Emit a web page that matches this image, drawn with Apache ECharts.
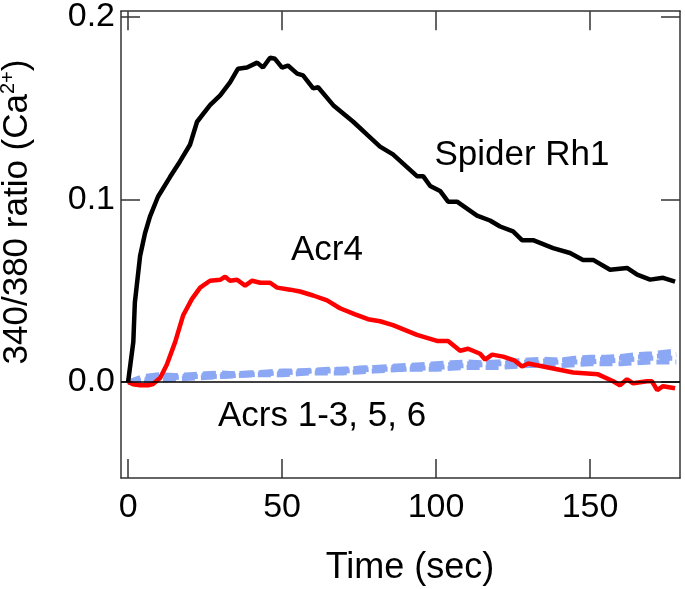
<!DOCTYPE html>
<html><head><meta charset="utf-8">
<script src="https://cdn.jsdelivr.net/npm/echarts@6/dist/echarts.min.js"></script>
<style>html,body{margin:0;padding:0;background:#fff}#c{width:685px;height:589px}</style>
</head><body><div id="c"></div>
<script>
// Spider Rh1 (black)
var rh1 = [[0,0],[1.7,0.022],[2.2,0.0436],[3.9,0.069],[5.5,0.0815],[7.1,0.0906],[9.7,0.1015],[13.6,0.1123],[16.9,0.121],[20.1,0.130],[22.4,0.1426],[26.6,0.1517],[29.9,0.1571],[33.1,0.1642],[35.7,0.1717],[38.6,0.1723],[41.9,0.175],[43.8,0.1723],[46.1,0.1777],[47.7,0.1771],[50.0,0.1723],[51.9,0.1734],[54.9,0.169],[56.8,0.168],[60.1,0.1609],[61.7,0.1615],[66.6,0.1517],[73.1,0.1426],[77.6,0.1355],[81.8,0.129],[86.0,0.1247],[93.8,0.1128],[95.8,0.1128],[98.1,0.1074],[101.3,0.1047],[103.9,0.0988],[106.8,0.0988],[113.3,0.0912],[117.5,0.0885],[120.8,0.0852],[125.0,0.0825],[127.9,0.0777],[131.5,0.0777],[138.0,0.0734],[143.5,0.0707],[147.7,0.0669],[151.0,0.0669],[156.5,0.0615],[162.0,0.0625],[165.3,0.0588],[169.5,0.0561],[173.7,0.0571],[177.6,0.055]];
// Acr4 (red)
var acr4 = [[0,0],[1.6,-0.0012],[3.9,-0.0018],[6.5,-0.0018],[8.1,-0.0011],[10.4,0.0022],[12.6,0.0096],[15.3,0.022],[17.9,0.0366],[20.7,0.0454],[23.4,0.0517],[26.6,0.0555],[29.9,0.056],[31.5,0.0577],[33.1,0.0555],[35.4,0.056],[38.0,0.0528],[40.3,0.0555],[42.9,0.0544],[46.1,0.0544],[48.4,0.0517],[52.6,0.0506],[55.8,0.0496],[60.1,0.0474],[64.6,0.0447],[68.8,0.0404],[73.7,0.0371],[77.9,0.0344],[81.8,0.0333],[86.0,0.0312],[93.8,0.0258],[100.3,0.0225],[103.9,0.0225],[107.8,0.0171],[110.4,0.0182],[114.3,0.0155],[115.9,0.0123],[118.2,0.015],[121.8,0.0139],[125.6,0.0117],[127.9,0.0085],[129.9,0.0101],[138.0,0.0074],[144.5,0.0052],[152.6,0.0042],[157.5,0.0004],[159.7,-0.0018],[162.0,0.0015],[164.0,-0.0007],[168.5,0.0004],[170.1,0.0004],[171.8,-0.0045],[173.7,-0.0023],[177.6,-0.0034]];
// Acrs 1-3, 5, 6 (blue dashed)
var tBlue = [0,5,10,15,20,25,30,35,40,45,50,55,60,65,70,75,80,85,90,95,100,105,110,115,120,125,130,135,140,145,150,155,160,165,170,175,178];
var acrA = [0,.003,.004,.0035,.004,.0045,.005,.0045,.005,.0055,.006,.006,.0065,.007,.007,.0075,.008,.0085,.009,.0095,.010,.0105,.011,.0105,.011,.0115,.012,.0125,.012,.013,.0135,.0135,.014,.015,.0155,.0165,.017];
var acrB = [0,.001,.003,.003,.003,.0035,.004,.0045,.005,.005,.005,.0055,.006,.0065,.007,.0075,.008,.008,.008,.0085,.009,.0095,.010,.010,.010,.0105,.011,.0115,.012,.012,.012,.0125,.013,.0135,.014,.0145,.015];
var acrC = [0,.001,.002,.0025,.003,.003,.003,.0035,.004,.0045,.005,.0055,.006,.006,.006,.0065,.007,.007,.007,.0075,.008,.0085,.009,.0095,.010,.010,.010,.0105,.011,.011,.011,.0115,.012,.0125,.013,.013,.013];
var acrD = [0,0,.001,.0015,.002,.0025,.003,.0035,.004,.004,.004,.0045,.005,.005,.005,.0055,.006,.0065,.007,.007,.007,.0075,.008,.008,.008,.0085,.009,.009,.009,.0095,.010,.010,.010,.0105,.011,.011,.011];
var acrE = [0,.002,.003,.003,.0035,.004,.004,.004,.0045,.005,.0055,.006,.006,.0065,.0065,.007,.0075,.008,.0085,.009,.009,.009,.0095,.010,.0105,.011,.011,.011,.0115,.012,.0125,.013,.0135,.014,.0145,.015,.016];
var xTicks = [0,50,100,150];
var yTicks = [0,0.1,0.2];

var FONT = 'Liberation Sans, Arial, sans-serif';
function pair(t, v){ return t.map(function(x,i){return [x,v[i]];}); }
var axLine = {show:true, onZero:false, lineStyle:{color:'#333', width:1.5}};
var tick = {show:true, inside:true, length:19, lineStyle:{color:'#333', width:1.5}};
function blue(v, off, first){
  var s = {type:'line', data:pair(tBlue,v), showSymbol:false, silent:true, z:2,
    lineStyle:{color:'#8ca8f4', width:5, type:[13,6], dashOffset:off}};
  if (first) s.markLine = {symbol:'none', silent:true, label:{show:false},
    lineStyle:{color:'#000', width:1.5, type:'solid'}, data:[{yAxis:0}]};
  return s;
}
var chart = echarts.init(document.getElementById('c'), null, {renderer:'canvas'});
chart.setOption({
  animation:false,
  grid:{left:121, right:5, top:5, bottom:111},
  xAxis:[
    {type:'value', min:-2.3, max:179.2, position:'bottom', splitLine:{show:false}, axisLine:axLine,
      axisTick:Object.assign({customValues:xTicks}, tick),
      axisLabel:{customValues:xTicks, fontSize:34, color:'#000', fontFamily:FONT, margin:13}},
    {type:'value', min:-2.3, max:179.2, position:'top', splitLine:{show:false}, axisLine:axLine,
      axisTick:Object.assign({customValues:xTicks}, tick), axisLabel:{show:false}}
  ],
  yAxis:[
    {type:'value', min:-0.0526, max:0.2032, position:'left', splitLine:{show:false}, axisLine:axLine,
      axisTick:Object.assign({customValues:yTicks}, tick),
      axisLabel:{customValues:yTicks, fontSize:34, color:'#000', fontFamily:FONT, margin:6,
        formatter:function(v){return v.toFixed(1);}}},
    {type:'value', min:-0.0526, max:0.2032, position:'right', splitLine:{show:false}, axisLine:axLine,
      axisTick:Object.assign({customValues:yTicks}, tick), axisLabel:{show:false}}
  ],
  series:[
    blue(acrA, 0, true), blue(acrB, 2), blue(acrC, 0), blue(acrD, 3), blue(acrE, 1),
    {type:'line', data:acr4, showSymbol:false, z:3, lineStyle:{color:'#ff0000', width:4.5}},
    {type:'line', data:rh1, showSymbol:false, z:4, lineStyle:{color:'#000', width:4.5}}
  ],
  graphic:[
    {type:'text', x:522, y:155, style:{text:'Spider Rh1', font:'35px '+FONT, fill:'#000', align:'center', verticalAlign:'middle'}},
    {type:'text', x:327, y:250, style:{text:'Acr4', font:'35px '+FONT, fill:'#000', align:'center', verticalAlign:'middle'}},
    {type:'text', x:218, y:416, style:{text:'Acrs 1-3, 5, 6', font:'35px '+FONT, fill:'#000', align:'left', verticalAlign:'middle'}},
    {type:'text', x:410, y:568, style:{text:'Time (sec)', font:'36px '+FONT, fill:'#000', align:'center', verticalAlign:'middle'}},
    {type:'text', x:17, y:212, rotation:Math.PI/2, style:{text:'340/380 ratio (Ca{sup|2+})', font:'35px '+FONT, fill:'#000', align:'center', verticalAlign:'middle',
      rich:{sup:{fontSize:20, fontFamily:FONT, verticalAlign:'top', lineHeight:38, padding:[0,0,16,0]}}}}
  ]
});
</script></body></html>
